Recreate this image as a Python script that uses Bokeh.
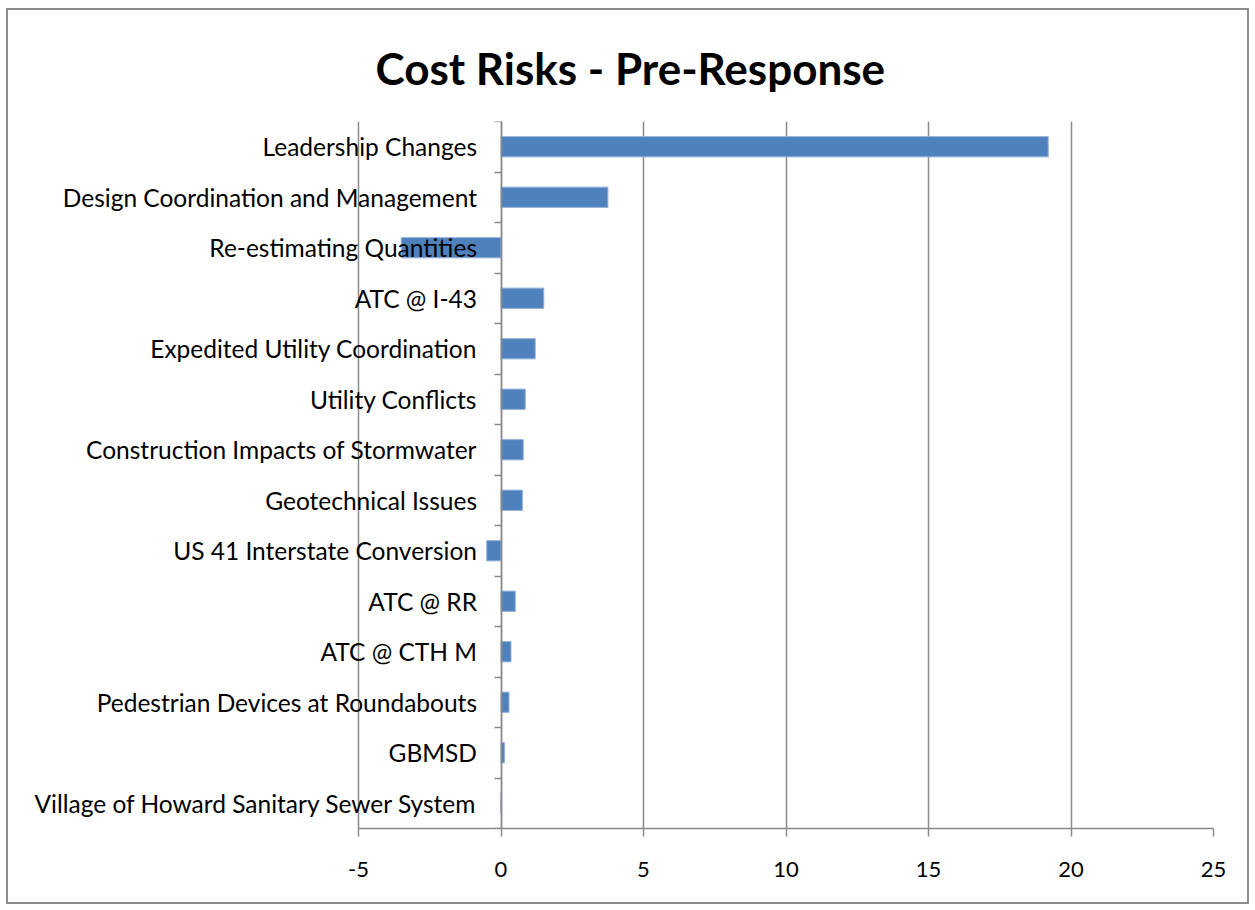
from bokeh.plotting import figure
from bokeh.models import Range1d, FixedTicker
from bokeh.embed import file_html
from bokeh.resources import INLINE

categories = [
    "Leadership Changes",
    "Design Coordination and Management",
    "Re-estimating Quantities",
    "ATC @ I-43",
    "Expedited Utility Coordination",
    "Utility Conflicts",
    "Construction Impacts of Stormwater",
    "Geotechnical Issues",
    "US 41 Interstate Conversion",
    "ATC @ RR",
    "ATC @ CTH M",
    "Pedestrian Devices at Roundabouts",
    "GBMSD",
    "Village of Howard Sanitary Sewer System",
]
values = [19.2, 3.75, -3.5, 1.5, 1.2, 0.85, 0.78, 0.75, -0.5, 0.5, 0.35, 0.28, 0.12, 0.0]
x_ticks = [-5, 0, 5, 10, 15, 20, 25]
x_tick_labels = ["-5", "0", "5", "10", "15", "20", "25"]
title_text = "Cost Risks  - Pre-Response"

FONT = "Lato"
GRAY = "#8a8a8a"

# layout geometry (pixels)
W, H = 1243, 896
AXIS_LEFT_PX = 350          # distance from canvas left to x = -5
AXIS_RIGHT_PX = 1205        # distance from canvas left to x = 25
px_per_unit = (AXIS_RIGHT_PX - AXIS_LEFT_PX) / (x_ticks[-1] - x_ticks[0])
x_start = x_ticks[0] - AXIS_LEFT_PX / px_per_unit
x_end = x_ticks[-1] + (W - 38 - AXIS_RIGHT_PX) / px_per_unit

positions = list(range(len(categories)))
boundaries = [i - 0.5 for i in range(len(categories) + 1)]

p = figure(
    width=W, height=H,
    x_range=Range1d(x_start, x_end),
    y_range=Range1d(len(categories) - 0.5, -0.5),
    output_backend="svg", toolbar_location=None,
    min_border_left=0, min_border_right=38,
    min_border_top=111, min_border_bottom=78,
    title=title_text,
)
p.styles = {"border": "2px solid #8c8c8c", "margin-left": "6px", "margin-top": "8px"}
p.outline_line_color = None
p.background_fill_color = "white"
p.border_fill_color = "white"

p.title.text_font = FONT
p.title.text_font_size = "44px"
p.title.text_font_style = "bold"
p.title.text_color = "black"
p.title.align = "left"
p.title.offset = 367
p.title.standoff = 56

p.hbar(y=positions, right=values, left=0, height=0.4,
       fill_color="#4F81BD", line_color="#8EAEDB", line_width=1)

# x axis
xa = p.xaxis[0]
xa.bounds = (x_ticks[0], x_ticks[-1])
xa.ticker = FixedTicker(ticks=x_ticks, minor_ticks=[])
xa.major_label_overrides = {t: l for t, l in zip(x_ticks, x_tick_labels)}
xa.axis_line_color = GRAY
xa.axis_line_width = 1.5
xa.major_tick_line_color = GRAY
xa.major_tick_line_width = 1.5
xa.major_tick_in = 0
xa.major_tick_out = 8
xa.minor_tick_line_color = None
xa.major_label_text_font = FONT
xa.major_label_text_font_size = "22px"
xa.major_label_text_color = "black"
xa.major_label_standoff = 25

# y axis crossing at x = 0
ya = p.yaxis[0]
ya.fixed_location = 0
ya.ticker = FixedTicker(ticks=positions, minor_ticks=boundaries)
ya.major_label_overrides = {i: c for i, c in zip(positions, categories)}
ya.axis_line_color = GRAY
ya.axis_line_width = 1.5
ya.major_tick_line_color = None
ya.major_tick_in = 0
ya.major_tick_out = 0
ya.minor_tick_line_color = GRAY
ya.minor_tick_line_width = 1.5
ya.minor_tick_in = 0
ya.minor_tick_out = 7
ya.major_label_text_font = FONT
ya.major_label_text_font_size = "24.5px"
ya.major_label_text_color = "black"
ya.major_label_standoff = 17

p.xgrid.ticker = FixedTicker(ticks=x_ticks)
p.xgrid.bounds = (x_ticks[0], x_ticks[-1])
p.xgrid.grid_line_color = GRAY
p.xgrid.grid_line_width = 1.5
p.ygrid.grid_line_color = None

open("out.html", "w").write(file_html(p, INLINE))
